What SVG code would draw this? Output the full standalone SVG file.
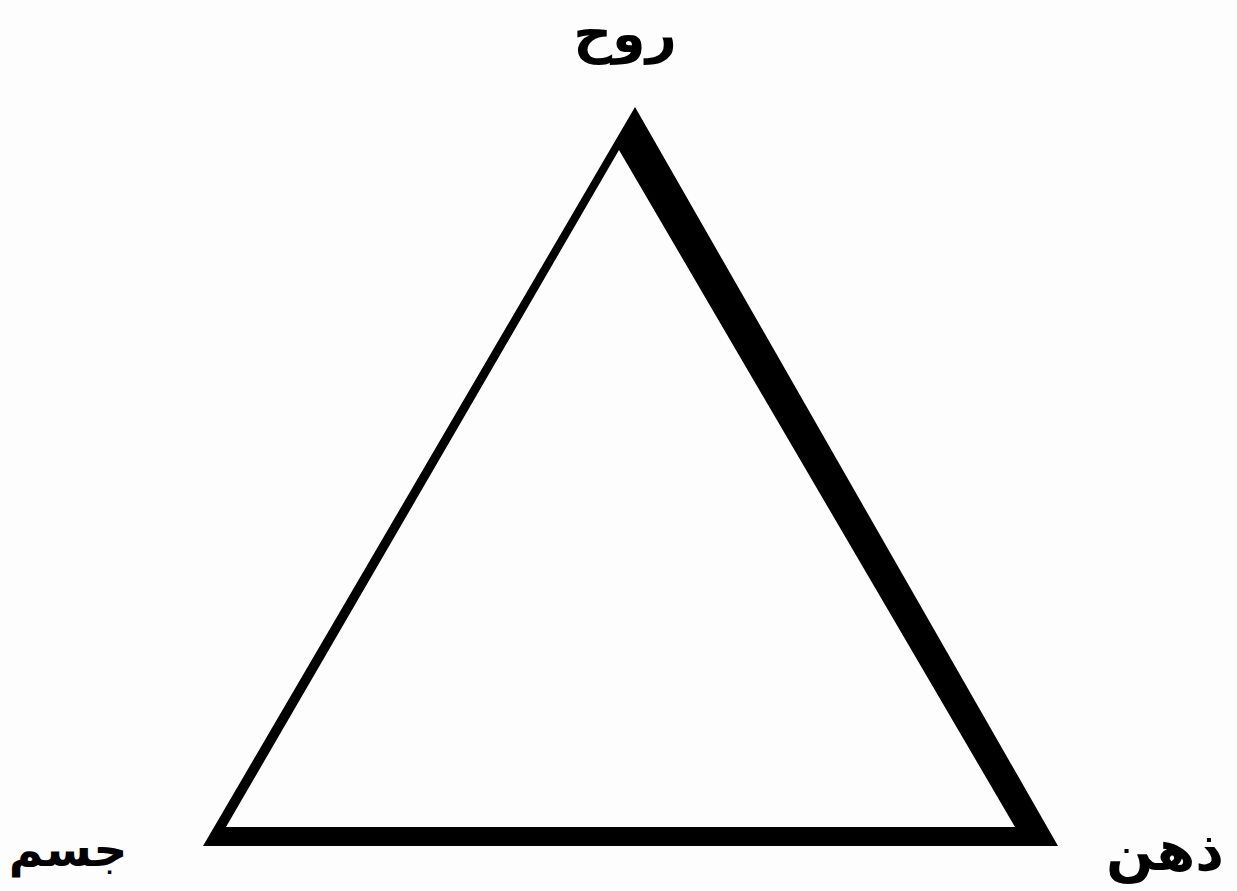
<svg xmlns="http://www.w3.org/2000/svg" width="1237" height="891" viewBox="0 0 1237 891">
<style>
.lbl{font-family:"DejaVu Sans",sans-serif;font-weight:bold;fill:#000;text-anchor:middle}
</style>
<rect width="1237" height="891" fill="#fdfdfd"/>
<g id="triangle">
<path d="M635,107 L1058,846 L203,846 Z M619,150 L226,827 L1015,827 Z" fill="#000" fill-rule="evenodd"/>
</g>
<g id="node-rooh"><text class="lbl" x="625" y="52" font-size="54" direction="rtl">روح</text></g>
<g id="node-jesm"><text class="lbl" x="68" y="866" font-size="47" direction="rtl">جسم</text></g>
<g id="node-zehn"><text class="lbl" x="1165" y="870" font-size="56" direction="rtl">ذهن</text></g>
</svg>
